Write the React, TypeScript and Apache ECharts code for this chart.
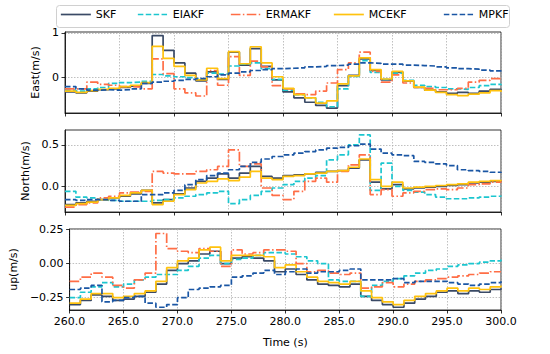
import React, { useEffect, useRef } from 'react';
import * as echarts from 'echarts';

const TIME = [260,261,262,263,264,265,266,267,268,269,270,271,272,273,274,275,276,277,278,279,280,281,282,283,284,285,286,287,288,289,290,291,292,293,294,295,296,297,298,299,300];

const METHODS = ['SKF', 'EIAKF', 'ERMAKF', 'MCEKF', 'MPKF'];
const PANELS = ['East(m/s)', 'North(m/s)', 'up(m/s)'];
const EAST_TICKS = [0, 1];
const NORTH_TICKS = [0, 0.5];
const UP_TICKS = [-0.25, 0, 0.25];

// East
const SKF_E = [-0.32,-0.34,-0.30,-0.27,-0.25,-0.22,-0.19,-0.13, 0.94,0.61,0.33,0.10,-0.07,0.13,-0.04,0.57,0.28,0.65,0.25,-0.05, -0.32,-0.45,-0.55,-0.62,-0.68,-0.18,0.05,0.42,0.16,-0.05, 0.12,-0.08,-0.22,-0.28,-0.32,-0.35,-0.33,-0.35,-0.30,-0.26,-0.28];
const EIAKF_E = [-0.28,-0.30,-0.25,-0.22,-0.13,-0.11,-0.10,-0.08, 0.07,0.04,0.02,0.0,-0.03,0.10,0.08,0.26,0.30,0.33,0.20,-0.04, -0.28,-0.38,-0.45,-0.55,-0.65,-0.25,0.03,0.38,0.12,-0.04, 0.10,-0.06,-0.17,-0.20,-0.22,-0.25,-0.26,-0.22,-0.18,-0.15,-0.17];
const ERMAKF_E = [-0.25,-0.25,-0.10,-0.15,-0.17,-0.20,-0.21,-0.25, 0.42,0.09,-0.25,-0.34,-0.41,0.16,-0.17,0.47,0.05,0.37,0.24,-0.18, -0.25,-0.36,-0.38,-0.30,-0.12,0.18,0.33,0.57,0.14,-0.10, 0.06,-0.12,-0.22,-0.24,-0.27,-0.27,-0.24,-0.10,-0.06,-0.02,0.0];
const MCEKF_E = [-0.30,-0.33,-0.29,-0.26,-0.24,-0.20,-0.17,-0.11, 0.70,0.43,0.25,0.05,-0.05,0.21,-0.02,0.58,0.31,0.69,0.33,0.02, -0.24,-0.38,-0.45,-0.57,-0.52,-0.14,0.04,0.44,0.18,-0.03, 0.14,-0.07,-0.21,-0.28,-0.33,-0.38,-0.40,-0.37,-0.34,-0.29,-0.32];
const MPKF_E = [-0.20,-0.25,-0.28,-0.27,-0.28,-0.27,-0.25,-0.13, -0.10,-0.08,-0.06,-0.04,-0.02,0.02,0.06,0.10,0.13,0.16,0.18,0.20, 0.21,0.22,0.24,0.25,0.27,0.28,0.30,0.33,0.32,0.30, 0.30,0.28,0.27,0.26,0.24,0.22,0.20,0.19,0.17,0.15,0.13];

// North
const SKF_N = [-0.22,-0.20,-0.18,-0.16,-0.14,-0.12,-0.09,-0.05, -0.20,-0.16,-0.09,-0.02,0.06,0.10,0.15,0.10,0.16,0.24,0.12,0.10, 0.13,0.14,0.15,0.17,0.18,0.19,0.22,0.32,0.05,-0.03, 0.02,-0.03,-0.02,-0.01,0.0,0.01,0.02,0.04,0.05,0.06,0.07];
const EIAKF_N = [-0.06,-0.13,-0.14,-0.16,-0.17,-0.18,-0.18,-0.18, -0.17,-0.16,-0.14,-0.12,-0.10,-0.08,-0.06,-0.21,-0.16,-0.11,-0.06,-0.02, 0.02,0.06,0.10,0.13,0.32,0.38,0.50,0.62,-0.05,0.28, 0.0,-0.05,-0.07,-0.10,-0.13,-0.15,-0.15,-0.14,-0.13,-0.12,-0.11];
const ERMAKF_N = [-0.25,-0.22,-0.20,-0.14,-0.12,-0.08,-0.07,-0.06, 0.18,0.16,0.15,0.15,0.18,0.20,0.24,0.44,0.24,0.27,-0.02,-0.11, -0.16,-0.06,0.06,0.10,0.05,0.18,0.26,0.38,-0.10,-0.04, -0.12,-0.08,-0.06,-0.04,-0.03,-0.04,-0.02,0.02,0.03,0.05,0.06];
const MCEKF_N = [-0.23,-0.21,-0.19,-0.16,-0.14,-0.11,-0.08,-0.05, -0.22,-0.18,-0.10,-0.04,0.04,0.06,0.09,0.07,0.11,0.18,0.10,0.08, 0.12,0.13,0.15,0.16,0.18,0.19,0.23,0.33,0.08,0.0, 0.05,-0.02,-0.01,0.0,0.01,0.02,0.03,0.05,0.06,0.07,0.08];
const MPKF_N = [-0.16,-0.17,-0.16,-0.16,-0.17,-0.18,-0.18,-0.10, -0.10,-0.08,-0.05,0.02,0.08,0.13,0.16,0.20,0.24,0.29,0.33,0.36, 0.38,0.40,0.42,0.44,0.46,0.47,0.49,0.51,0.45,0.40, 0.38,0.37,0.30,0.29,0.27,0.25,0.20,0.19,0.18,0.17,0.16];

// Up
const SKF_U = [-0.30,-0.27,-0.23,-0.24,-0.27,-0.26,-0.24,-0.21, -0.15,-0.05,0.0,0.02,0.07,0.09,0.0,0.04,0.05,0.04,0.02,-0.06, -0.04,-0.08,-0.12,-0.15,-0.16,-0.17,-0.15,-0.24,-0.27,-0.30, -0.32,-0.29,-0.26,-0.24,-0.21,-0.20,-0.22,-0.20,-0.21,-0.19,-0.18];
const EIAKF_U = [-0.25,-0.21,-0.17,-0.14,-0.17,-0.15,-0.12,-0.10, -0.08,-0.08,-0.05,-0.02,0.04,0.06,0.0,0.03,0.04,0.06,0.08,0.08, 0.07,0.05,0.02,0.0,-0.12,-0.13,-0.13,-0.24,-0.16,-0.13, -0.11,-0.09,-0.07,-0.05,-0.04,-0.02,-0.01,0.0,0.01,0.02,0.03];
const ERMAKF_U = [-0.13,-0.10,-0.07,-0.10,-0.16,-0.18,-0.12,-0.07, 0.22,0.11,0.09,0.08,0.11,0.09,-0.02,0.10,0.07,0.08,0.10,0.10, 0.09,0.0,-0.06,-0.05,-0.07,-0.08,-0.07,-0.18,-0.17,-0.14, -0.17,-0.15,-0.13,-0.12,-0.11,-0.10,-0.09,-0.08,-0.07,-0.06,-0.06];
const MCEKF_U = [-0.29,-0.26,-0.22,-0.22,-0.25,-0.24,-0.22,-0.20, -0.13,-0.03,0.02,0.04,0.10,0.12,0.02,0.06,0.06,0.06,0.05,-0.03, -0.01,-0.06,-0.10,-0.13,-0.14,-0.15,-0.13,-0.20,-0.25,-0.28, -0.30,-0.27,-0.24,-0.22,-0.20,-0.18,-0.20,-0.18,-0.19,-0.17,-0.16];
const MPKF_U = [-0.19,-0.18,-0.16,-0.28,-0.27,-0.25,-0.24,-0.29, -0.32,-0.30,-0.25,-0.19,-0.18,-0.17,-0.16,-0.10,-0.09,-0.07,-0.05,-0.08, -0.06,-0.04,-0.07,-0.06,-0.06,-0.05,-0.04,-0.12,-0.12,-0.12, -0.11,-0.14,-0.13,-0.13,-0.13,-0.14,-0.15,-0.16,-0.15,-0.14,-0.13];

const PANEL_DATA = [
  [SKF_E, EIAKF_E, ERMAKF_E, MCEKF_E, MPKF_E],
  [SKF_N, EIAKF_N, ERMAKF_N, MCEKF_N, MPKF_N],
  [SKF_U, EIAKF_U, ERMAKF_U, MCEKF_U, MPKF_U],
];

const COLORS = ['#3a4a66', '#1cc6cf', '#ff6e46', '#ffc20e', '#1a56a4'];
const DASHES: any[] = ['solid', [5.5, 2.4], [9.6, 2.4, 1.5, 2.4], 'solid', [5.5, 2.4]];
const FONT = 'DejaVu Sans';

const GRIDS = [
  { top: 32, height: 81 },
  { top: 130, height: 82 },
  { top: 229, height: 81 },
];
const Y_RANGES = [
  { min: -0.79, max: 1.02 },
  { min: -0.31, max: 0.68 },
  { min: -0.34, max: 0.253 },
];
const Y_TICKS = [EAST_TICKS, NORTH_TICKS, UP_TICKS];
const NAME_GAPS = [18, 31, 48];
const LEGEND_LEFTS = [60, 137, 230, 333, 443];

const fmtY = (p: number) => (v: number) => {
  let s: string;
  if (p === 0) s = v.toFixed(0);
  else if (p === 1) s = v.toFixed(1);
  else s = v.toFixed(2);
  return s.replace('-', '\u2212');
};

export default function App() {
  const ref = useRef<HTMLDivElement>(null);
  useEffect(() => {
    if (!ref.current) return;
    const chart = echarts.init(ref.current, undefined, { renderer: 'svg' });
    const grid = GRIDS.map((g) => ({
      left: 65, right: 49, top: g.top, height: g.height,
      show: true, borderColor: '#000', borderWidth: 0.8, backgroundColor: 'transparent',
    }));
    const xAxis = GRIDS.map((_, i) => ({
      type: 'value', gridIndex: i, min: 260, max: 300, interval: 5,
      name: i === 2 ? 'Time (s)' : '', nameLocation: 'middle', nameGap: 27,
      nameTextStyle: { fontFamily: FONT, fontSize: 11, color: '#000' },
      axisLine: { show: true, onZero: false, lineStyle: { color: '#000', width: 0.8 } },
      axisTick: { show: true, inside: false, length: 3.5, lineStyle: { color: '#000', width: 0.8 } },
      axisLabel: { show: i === 2, margin: 6, fontFamily: FONT, fontSize: 11, color: '#000', formatter: (v: number) => v.toFixed(1), showMinLabel: true, showMaxLabel: true },
      splitLine: { show: true, lineStyle: { color: '#b0b0b0', width: 0.8, type: [1.5, 1.5] } },
    }));
    const yAxis = GRIDS.map((_, i) => ({
      type: 'value', gridIndex: i, min: Y_RANGES[i].min, max: Y_RANGES[i].max,
      name: PANELS[i], nameLocation: 'middle', nameRotate: 90, nameGap: NAME_GAPS[i],
      nameTextStyle: { fontFamily: FONT, fontSize: 11, color: '#000' },
      axisLine: { show: true, onZero: false, lineStyle: { color: '#000', width: 0.8 } },
      axisTick: { show: true, inside: false, length: 3.5, customValues: Y_TICKS[i], lineStyle: { color: '#000', width: 0.8 } },
      axisLabel: { show: true, margin: 6, customValues: Y_TICKS[i], fontFamily: FONT, fontSize: 11, color: '#000', formatter: fmtY(i) },
      splitLine: { show: true, lineStyle: { color: '#b0b0b0', width: 0.8, type: [1.5, 1.5] } },
    }));
    const series: any[] = [];
    PANEL_DATA.forEach((arrs, p) => {
      arrs.forEach((arr, m) => {
        series.push({
          name: METHODS[m], type: 'line', step: 'end',
          xAxisIndex: p, yAxisIndex: p,
          data: TIME.map((t, k) => [t, arr[k]]),
          showSymbol: false, symbol: 'none',
          lineStyle: { color: COLORS[m], width: 1.7, type: DASHES[m] },
          itemStyle: { color: COLORS[m] },
          z: 2 + m,
          silent: true,
        });
      });
    });
    const legend = METHODS.map((name, m) => ({
      data: [name], left: LEGEND_LEFTS[m], top: 9, padding: 0,
      itemWidth: 30, itemHeight: 12,
      itemStyle: { opacity: 0 },
      lineStyle: { color: COLORS[m], width: 1.7, type: DASHES[m] },
      textStyle: { fontFamily: FONT, fontSize: 11, color: '#000' },
      selectedMode: false,
    }));
    chart.setOption({
      animation: false,
      backgroundColor: '#fff',
      graphic: [{
        type: 'rect', left: 56, top: 5, z: 0,
        shape: { width: 453, height: 22, r: 3 },
        style: { fill: '#fff', stroke: '#d0d0d0', lineWidth: 1 },
      }],
      legend,
      grid, xAxis, yAxis, series,
    });
    return () => chart.dispose();
  }, []);
  return <div ref={ref} style={{ width: 550, height: 354, position: 'absolute', left: 0, top: 0 }} />;
}
